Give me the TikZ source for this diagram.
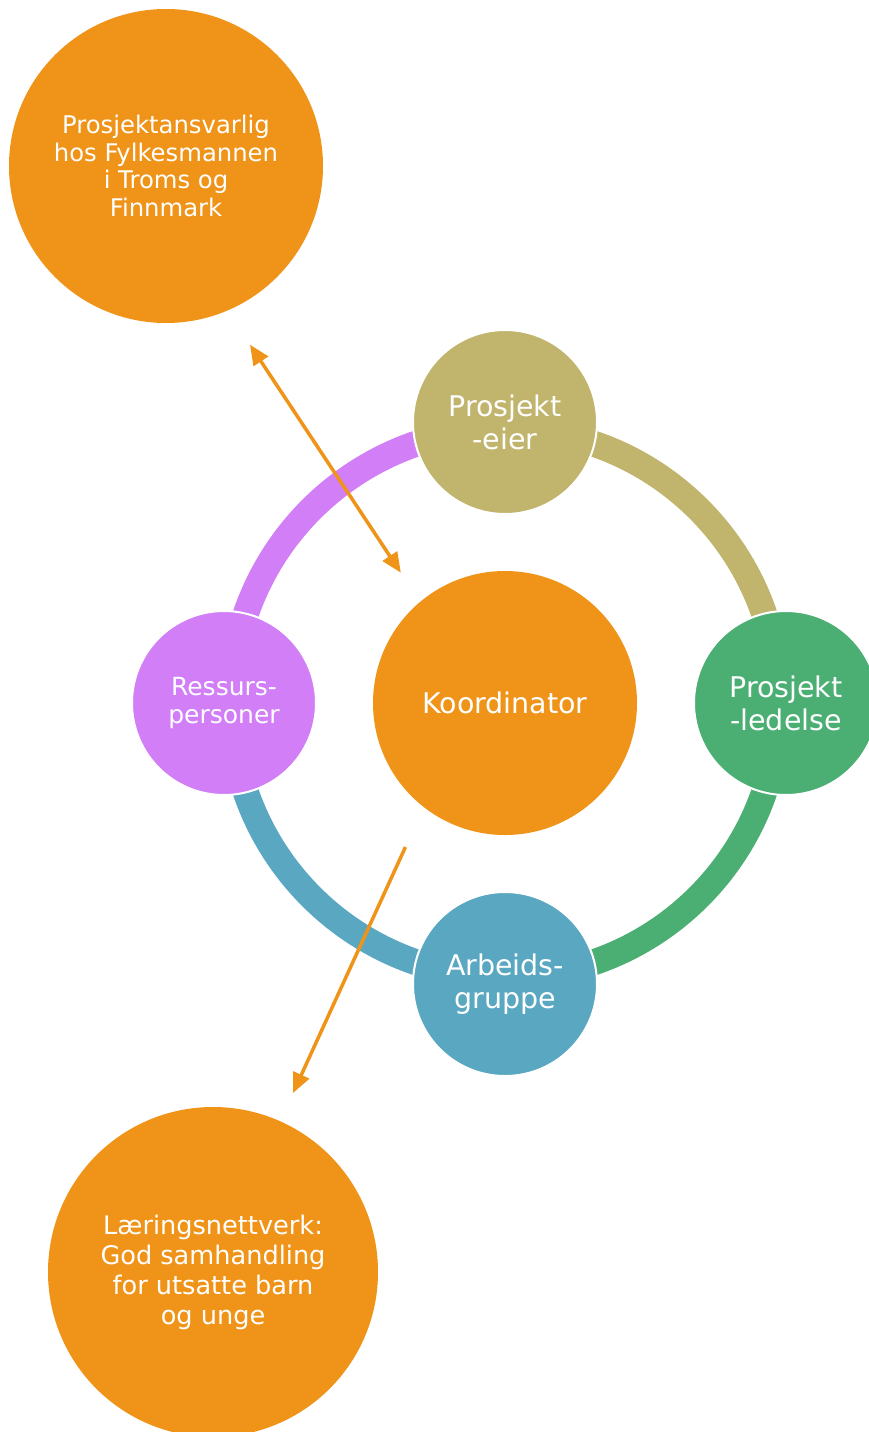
\documentclass[tikz,border=0pt]{standalone}
\usepackage{fontspec}
\setmainfont{DejaVu Sans}
\usetikzlibrary{positioning, arrows.meta}

\definecolor{orng}{RGB}{239,148,25}
\definecolor{tanc}{RGB}{193,180,108}
\definecolor{grnc}{RGB}{75,175,116}
\definecolor{bluc}{RGB}{90,167,194}
\definecolor{purc}{RGB}{209,126,247}

\tikzset{
    big/.style={circle, fill=orng, text=white, align=center, inner sep=0pt, outer sep=0pt},
    ring/.style={circle, draw=white, line width=2pt, text=white, align=center,
        minimum size=184pt, inner sep=0pt, outer sep=0pt, font=\fontsize{28.5}{33}\selectfont},
    ringarc/.style={line width=26pt},
    link/.style={draw=orng, line width=3.5pt},
}

\begin{document}
\begin{tikzpicture}[x=1pt, y=1pt, >={Triangle[length=20pt, width=17pt]}]
    \useasboundingbox (0,0) rectangle (868,-1432);

    \node[big, minimum size=314pt, font=\fontsize{24.3}{27.5}\selectfont] (fylke) at (166,-166) {Prosjektansvarlig\\hos Fylkesmannen\\i Troms og\\Finnmark};
    \node[big, minimum size=264pt, font=\fontsize{28.5}{33}\selectfont] (koord) at (505,-703) {Koordinator};
    \node[big, minimum size=330pt, font=\fontsize{25.6}{30}\selectfont] (laering) at (213,-1272) {Læringsnettverk:\\God samhandling\\for utsatte barn\\og unge};

    % the ring
    \draw[ringarc, tanc] (koord.center) ++(90:274) arc[start angle=90, end angle=0, radius=274];
    \draw[ringarc, grnc] (koord.center) ++(0:274) arc[start angle=0, end angle=-90, radius=274];
    \draw[ringarc, bluc] (koord.center) ++(-90:274) arc[start angle=-90, end angle=-180, radius=274];
    \draw[ringarc, purc] (koord.center) ++(180:274) arc[start angle=180, end angle=90, radius=274];

    \node[ring, fill=tanc, above=57pt of koord] (eier) {Prosjekt\\-eier};
    \node[ring, fill=grnc, right=57pt of koord] (ledelse) {Prosjekt\\-ledelse};
    \node[ring, fill=bluc, below=57pt of koord] (gruppe) {Arbeids-\\gruppe};
    \node[ring, fill=purc, left=57pt of koord, font=\fontsize{25}{28}\selectfont] (ressurs) {Ressurs-\\personer};

    \draw[link, <->, shorten <=41pt, shorten >=35pt] (fylke.-67) -- (koord.130);
    \draw[link, ->, shorten <=44pt, shorten >=31pt] (koord.-128) -- (laering.66);
\end{tikzpicture}
\end{document}
